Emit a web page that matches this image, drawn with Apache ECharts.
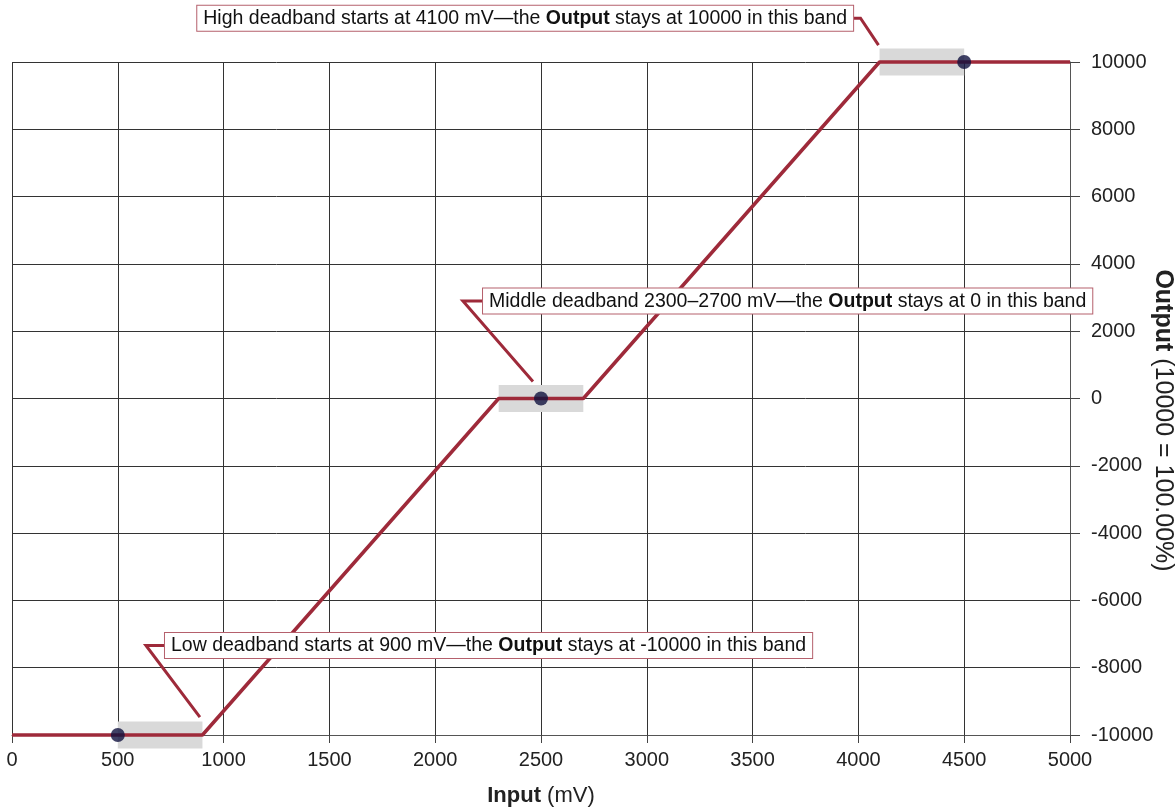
<!DOCTYPE html>
<html>
<head>
<meta charset="utf-8">
<script src="https://cdn.jsdelivr.net/npm/echarts@6/dist/echarts.min.js"></script>
<style>
html,body{margin:0;padding:0;background:#fff;}
#chart{width:1176px;height:807px;}
</style>
</head>
<body>
<div id="chart"></div>
<script>
// ---- data ----
var inputMv = [0, 900, 2300, 2700, 4100, 5000];
var outputVal = [-10000, -10000, 0, 0, 10000, 10000];
var markerX = [500, 2500, 4500];
var markerY = [-10000, 0, 10000];
var bandStart = [500, 2300, 4100];
var bandEnd = [900, 2700, 4500];
var bandLevel = [-10000, 0, 10000];
var bandHalf = 400;
var xTicks = [0, 500, 1000, 1500, 2000, 2500, 3000, 3500, 4000, 4500, 5000];
var yTicks = [-10000, -8000, -6000, -4000, -2000, 0, 2000, 4000, 6000, 8000, 10000];
var noteTexts = [
  'Low deadband starts at 900 mV\u2014the {b|Output} stays at -10000 in this band',
  'Middle deadband 2300\u20132700 mV\u2014the {b|Output} stays at 0 in this band',
  'High deadband starts at 4100 mV\u2014the {b|Output} stays at 10000 in this band'
];
// leader polyline points in data units: [boxEdge, knee, tip]
var noteLeaderX = [[723, 633, 888], [2226, 2131, 2462], [3975, 4010, 4095]];
var noteLeaderY = [[-7340, -7340, -9470], [2900, 2900, 505], [11300, 11300, 10500]];
var noteSide = ['left', 'left', 'right'];

var FONT = "'Liberation Sans', Arial, Helvetica, sans-serif";
var RED = '#9e2a3a';

var lineData = inputMv.map(function (x, i) { return [x, outputVal[i]]; });
var markerData = markerX.map(function (x, i) { return [x, markerY[i]]; });
var bandData = bandStart.map(function (s, i) { return [s, bandEnd[i], bandLevel[i]]; });
var noteData = noteTexts.map(function (t, i) { return [i]; });

var chart = echarts.init(document.getElementById('chart'), null, {renderer: 'canvas'});
chart.setOption({
  animation: false,
  backgroundColor: '#fff',
  grid: {left: 12, right: 106, top: 62, bottom: 72, containLabel: false, outerBoundsMode: 'none'},
  xAxis: {
    type: 'value', min: 0, max: 5000, interval: 500, position: 'bottom',
    axisLine: {show: true, onZero: false, lineStyle: {color: '#555', width: 1}},
    axisTick: {show: true, inside: false, length: 8, lineStyle: {color: '#444'}},
    splitLine: {show: true, lineStyle: {color: '#333', width: 1}},
    axisLabel: {fontSize: 20, color: '#222', fontFamily: FONT, margin: 15,
      formatter: function (v) { return xTicks.indexOf(v) >= 0 ? String(v) : ''; }},
    name: '{b|Input} (mV)', nameLocation: 'middle', nameGap: 50, nameMoveOverlap: false,
    nameTextStyle: {fontSize: 22, color: '#222', fontFamily: FONT,
      rich: {b: {fontSize: 22, fontWeight: 'bold', color: '#222', fontFamily: FONT}}}
  },
  yAxis: {
    type: 'value', min: -10000, max: 10000, interval: 2000, position: 'right',
    axisLine: {show: true, onZero: false, lineStyle: {color: '#555', width: 1}},
    axisTick: {show: true, inside: false, length: 10, lineStyle: {color: '#444'}},
    splitLine: {show: true, lineStyle: {color: '#333', width: 1}},
    axisLabel: {fontSize: 20, color: '#222', fontFamily: FONT, margin: 21,
      formatter: function (v) { return yTicks.indexOf(v) >= 0 ? String(v) : ''; }},
    name: '{b|Output} (10000 = 100.00%)', nameLocation: 'middle', nameGap: 80, nameRotate: -90,
    nameMoveOverlap: false,
    nameTextStyle: {fontSize: 25, color: '#222', fontFamily: FONT, padding: [0, 0, 0, 44],
      rich: {b: {fontSize: 25, fontWeight: 'bold', color: '#222', fontFamily: FONT}}}
  },
  series: [
    {
      type: 'custom', name: 'bands', z: 1, clip: false, silent: true,
      data: bandData,
      renderItem: function (params, api) {
        var p1 = api.coord([api.value(0), api.value(2) + bandHalf]);
        var p2 = api.coord([api.value(1), api.value(2) - bandHalf]);
        return {type: 'rect', shape: {x: p1[0], y: p1[1], width: p2[0] - p1[0], height: p2[1] - p1[1]},
          style: {fill: '#d9d9d9'}};
      }
    },
    {
      type: 'line', name: 'output', z: 3, data: lineData, showSymbol: false, symbol: 'none',
      clip: false, lineStyle: {color: RED, width: 3.5}
    },
    {
      type: 'scatter', name: 'points', z: 4, data: markerData, symbol: 'circle', symbolSize: 14,
      itemStyle: {color: '#10123f'}
    },
    {
      type: 'custom', name: 'notes', z: 5, clip: false, silent: true,
      data: noteData,
      renderItem: function (params, api) {
        var i = api.value(0);
        var pts = noteLeaderX[i].map(function (x, k) { return api.coord([x, noteLeaderY[i][k]]); });
        var anchor = pts[0];
        return {
          type: 'group',
          children: [
            {type: 'polyline', shape: {points: pts}, style: {stroke: RED, lineWidth: 3, fill: null}, z2: 1},
            {type: 'text', x: anchor[0], y: anchor[1], z2: 2,
              style: {
                text: noteTexts[i], fontSize: 19.5, fontFamily: FONT, fill: '#111',
                align: noteSide[i], verticalAlign: 'middle',
                backgroundColor: '#fff', borderColor: '#b5606c', borderWidth: 1,
                padding: [3, 6, 2, 6],
                rich: {b: {fontSize: 19.5, fontWeight: 'bold', fontFamily: FONT, fill: '#111'}}
              }}
          ]
        };
      }
    }
  ]
});
</script>
</body>
</html>
